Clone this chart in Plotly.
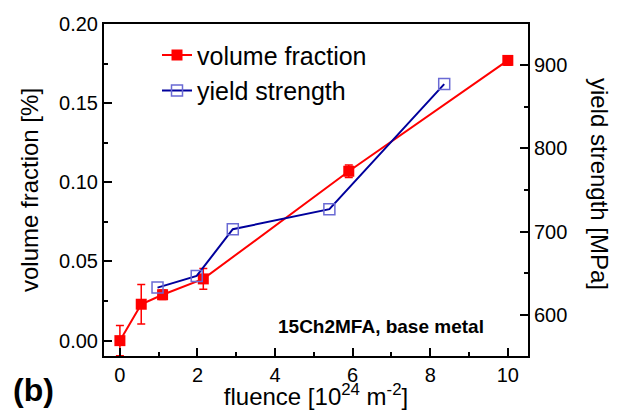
import plotly.graph_objects as go

# volume fraction (left axis)
vf_x = [0.0, 0.55, 1.1, 2.15, 5.9, 10.0]
vf_y = [0.0, 0.023, 0.029, 0.039, 0.107, 0.177]
vf_err = [0.0095, 0.0125, 0.003, 0.0065, 0.004, 0.003]

# yield strength (right axis)
ys_x = [0.97, 1.98, 2.91, 5.40, 8.36]
ys_y = [633, 647, 703, 727, 877]

FONT = "Liberation Sans, Arial, sans-serif"

fig = go.Figure()
fig.add_trace(go.Scatter(
    x=vf_x, y=vf_y, mode="lines+markers", name="volume fraction",
    line=dict(color="#ff0000", width=2),
    marker=dict(symbol="square", size=11, color="#ff0000"),
    error_y=dict(type="data", array=vf_err, color="#ff0000", thickness=1.5, width=4),
))
fig.add_trace(go.Scatter(
    x=ys_x, y=ys_y, mode="lines+markers", name="yield strength", yaxis="y2",
    line=dict(color="#00009c", width=2),
    marker=dict(symbol="square-open", size=11, color="#6a6ad4", line=dict(width=1.5)),
))

axis_common = dict(
    showline=True, linecolor="black", linewidth=2,
    ticks="inside", ticklen=8, tickwidth=2, tickcolor="black",
    showgrid=False, zeroline=False, automargin=False,
    tickfont=dict(family=FONT, size=20, color="black"),
)
minor_common = dict(ticks="inside", ticklen=4, tickwidth=2, tickcolor="black")
title_font = dict(family=FONT, size=24, color="black")

# page body has an 8px margin: figure is 609x402 so it fills the 617x410 window
fig.update_layout(
    width=609, height=402,
    margin=dict(l=96, r=89, t=16, b=54, autoexpand=False),
    paper_bgcolor="white", plot_bgcolor="white",
    font=dict(family=FONT, color="black"),
    showlegend=True,
    legend=dict(x=0.125, y=0.975, xanchor="left", yanchor="top",
                font=dict(family=FONT, size=25, color="black"),
                bgcolor="rgba(0,0,0,0)"),
    xaxis=dict(
        range=[-0.41, 10.52], tickvals=[0, 2, 4, 6, 8, 10], mirror=True,
        minor=dict(tickvals=[1, 3, 5, 7, 9], **minor_common),
        title=dict(text="fluence [10<sup>24</sup> m<sup>-2</sup>]", font=title_font, standoff=3),
        **axis_common,
    ),
    yaxis=dict(
        range=[-0.0097, 0.20], tickvals=[0, 0.05, 0.10, 0.15, 0.20], tickformat=".2f",
        minor=dict(tickvals=[0.025, 0.075, 0.125, 0.175], **minor_common),
        title=dict(text="volume fraction [%]", font=title_font, standoff=14),
        **axis_common,
    ),
    yaxis2=dict(
        range=[551, 949], overlaying="y", side="right", tickvals=[600, 700, 800, 900],
        minor=dict(tickvals=[650, 750, 850], **minor_common),
        **axis_common,
    ),
    annotations=[
        dict(text="yield strength [MPa]", xref="paper", yref="paper",
             x=1.17, y=0.518, xanchor="center", yanchor="middle", showarrow=False,
             textangle=90, font=title_font),
        dict(text="<b>15Ch2MFA, base metal</b>", xref="paper", yref="paper",
             x=0.654, y=0.090, xanchor="center", yanchor="middle", showarrow=False,
             font=dict(family=FONT, size=19, color="black")),
        dict(text="<b>(b)</b>", xref="paper", yref="paper",
             x=-0.167, y=-0.102, xanchor="center", yanchor="middle", showarrow=False,
             font=dict(family=FONT, size=32, color="black")),
    ],
)

fig.write_html("out.html")
